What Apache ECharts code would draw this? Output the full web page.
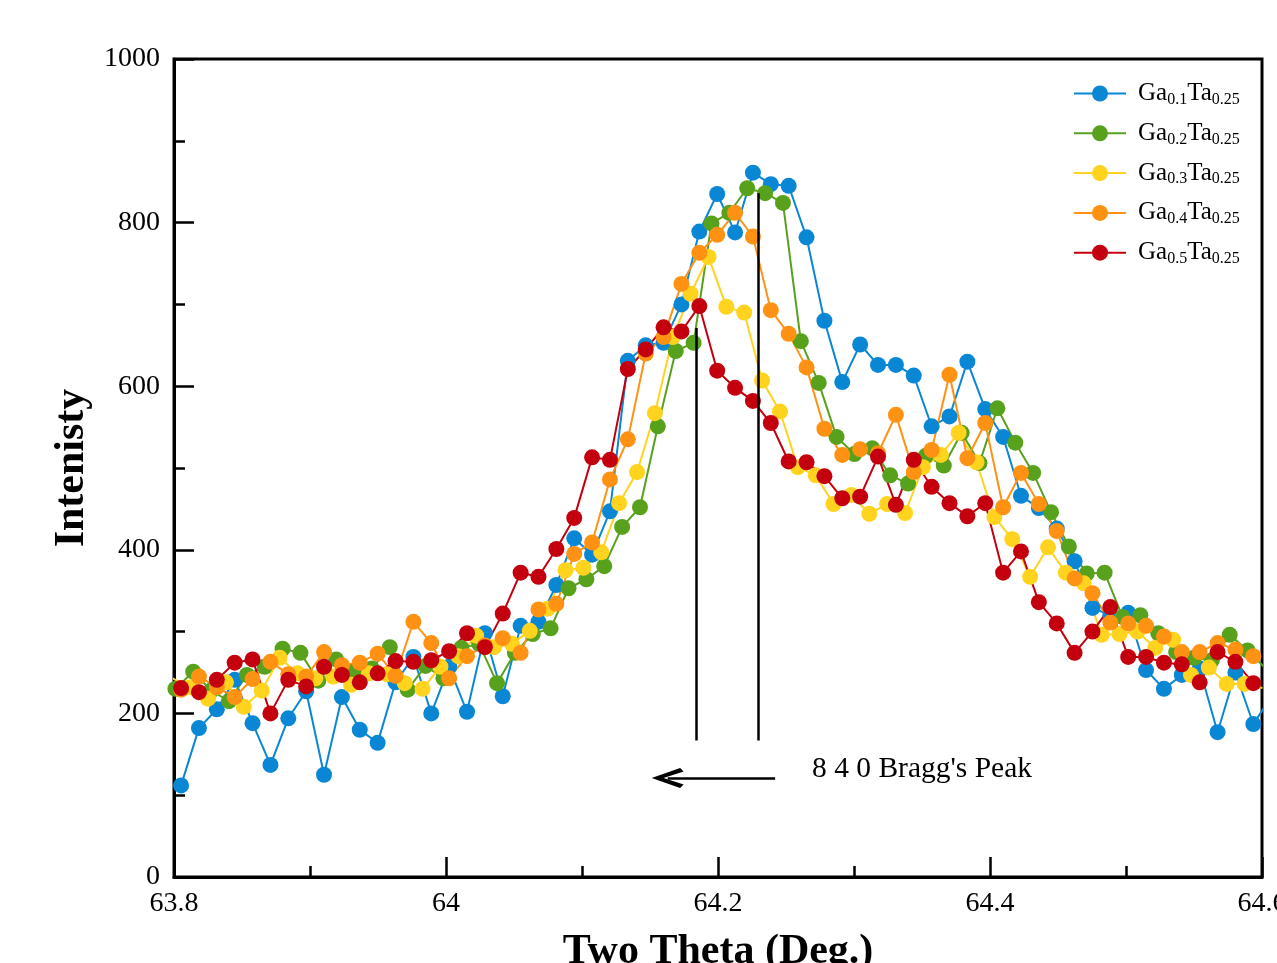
<!DOCTYPE html>
<html>
<head>
<meta charset="utf-8">
<title>840 Bragg's Peak</title>
<script src="https://cdn.jsdelivr.net/npm/echarts@6.0.0/dist/echarts.min.js"></script>
<style>
  html, body { margin: 0; padding: 0; background: #fff; }
  #chart { width: 1277px; height: 963px; }
</style>
</head>
<body>
<div id="chart"></div>
<script>
// 2theta scan grid of each sample (start, step in degrees)
const thetaStep = 0.01314;
const thetaStart = [63.8052, 63.8010, 63.7988, 63.8052, 63.8052];

const seriesNames = ['Ga0.1Ta0.25', 'Ga0.2Ta0.25', 'Ga0.3Ta0.25', 'Ga0.4Ta0.25', 'Ga0.5Ta0.25'];
const colors = ['#0A87D4', '#57A11C', '#FFD31E', '#FF9113', '#C4000E'];

// intensity
const ga01 = [112, 182, 205, 241, 188, 137, 194, 227, 125, 220, 180, 164, 238, 269, 200, 257, 202, 298, 221, 307,
  312, 357, 414, 394, 447, 631, 650, 653, 700, 789, 835, 788, 861, 847, 845, 782, 680, 605, 651, 626,
  626, 613, 551, 563, 630, 572, 538, 466, 451, 426, 386, 329, 320, 323, 253, 230, 247, 255, 177, 250,
  187, 220];
const ga02 = [230, 251, 228, 215, 247, 257, 279, 274, 240, 266, 251, 255, 281, 229, 258, 243, 280, 285, 237, 274,
  297, 304, 353, 364, 380, 428, 452, 551, 643, 653, 799, 812, 842, 836, 824, 655, 604, 538, 517, 524,
  491, 481, 515, 503, 543, 506, 573, 531, 494, 446, 404, 371, 372, 318, 320, 298, 275, 268, 265, 296,
  277, 255];
const ga03 = [243, 232, 218, 238, 208, 228, 268, 249, 243, 245, 235, 249, 248, 237, 230, 257, 270, 295, 281, 285,
  301, 328, 375, 378, 397, 457, 495, 567, 660, 713, 758, 697, 690, 607, 569, 501, 491, 456, 467, 444,
  456, 445, 501, 516, 543, 507, 440, 413, 367, 403, 372, 359, 296, 297, 300, 280, 290, 247, 256, 236,
  236, 231];
const ga04 = [229, 245, 232, 220, 242, 263, 248, 245, 275, 259, 262, 273, 246, 312, 286, 243, 270, 283, 292, 274,
  327, 334, 395, 409, 486, 535, 640, 660, 725, 763, 785, 812, 783, 693, 664, 623, 548, 516, 523, 518,
  565, 495, 522, 614, 512, 555, 452, 494, 456, 423, 365, 347, 311, 310, 307, 294, 275, 275, 286, 278,
  270];
const ga05 = [231, 226, 241, 262, 266, 200, 241, 233, 257, 247, 238, 249, 264, 263, 265, 276, 298, 281, 322, 372,
  367, 401, 439, 513, 510, 621, 645, 672, 667, 698, 619, 598, 582, 555, 508, 507, 490, 463, 465, 514,
  455, 510, 477, 457, 441, 457, 372, 398, 336, 310, 274, 300, 330, 269, 269, 262, 260, 238, 275, 263,
  237];
const intensities = [ga01, ga02, ga03, ga04, ga05];

// x axis ticks
const xMin = 63.8;
const xMax = 64.6;
const xInterval = 0.2;
// y axis ticks
const yMin = 0;
const yMax = 1000;
const yInterval = 200;

// marker lines (2theta, from/to intensity)
const peakLines = [[64.1838, 167, 671], [64.2294, 167, 836]];
const arrowFrom = [64.2420, 121];
const arrowTo = [64.1630, 121];

const serif = '"Liberation Serif", "Times New Roman", serif';

const myChart = echarts.init(document.getElementById('chart'), null, { renderer: 'canvas' });

const lineSeries = intensities.map((vals, s) => ({
  name: seriesNames[s],
  type: 'line',
  data: vals.map((v, i) => [thetaStart[s] + i * thetaStep, v]),
  symbol: 'circle',
  symbolSize: 16,
  showAllSymbol: true,
  clip: true,
  color: colors[s],
  lineStyle: { width: 2, color: colors[s] },
  itemStyle: { color: colors[s] },
  emphasis: { disabled: true },
  animation: false,
}));

const markData = peakLines.map(p => [
  { coord: [p[0], p[1]], symbol: 'none' },
  { coord: [p[0], p[2]], symbol: 'none' },
]);
// arrow pointing to lower angle
markData.push([
  { coord: arrowFrom, symbol: 'none' },
  {
    coord: arrowTo,
    symbol: 'path://M0,0 L10,24 L6.5,27 L0,10 L-6.5,27 L-10,24 Z',
    symbolSize: [20, 32],
  },
]);

lineSeries.push({
  name: 'annot',
  type: 'line',
  data: [],
  silent: true,
  animation: false,
  markLine: {
    silent: true,
    animation: false,
    symbol: ['none', 'none'],
    label: { show: false },
    lineStyle: { color: '#000', width: 2.5, type: 'solid' },
    emphasis: { disabled: true },
    data: markData,
  },
});

const option = {
  animation: false,
  backgroundColor: '#fff',
  grid: {
    left: 174,
    top: 59,
    right: 15,
    bottom: 86,
    containLabel: false,
    outerBoundsMode: 'none',
    show: true,
    borderColor: '#000',
    borderWidth: 3,
    backgroundColor: 'transparent',
  },
  legend: {
    data: seriesNames,
    orient: 'vertical',
    left: 1073,
    top: 81,
    padding: 0,
    itemWidth: 52,
    itemHeight: 20,
    itemGap: 13.3,
    selectedMode: false,
    formatter: (name) => {
      const m = name.match(/Ga([\d.]+)Ta([\d.]+)/);
      return '{n|Ga}{s|' + m[1] + '}{n|Ta}{s|' + m[2] + '}';
    },
    textStyle: {
      padding: [0, 0, 0, 7],
      rich: {
        n: { fontFamily: serif, fontSize: 25, lineHeight: 28, color: '#000' },
        s: { fontFamily: serif, fontSize: 16, lineHeight: 14, color: '#000', verticalAlign: 'bottom' },
      },
    },
  },
  xAxis: {
    type: 'value',
    min: xMin,
    max: xMax,
    interval: xInterval,
    name: 'Two Theta (Deg.)',
    nameLocation: 'middle',
    nameGap: 54,
    nameTextStyle: { fontFamily: serif, fontSize: 42, fontWeight: 'bold', color: '#000' },
    axisLine: { show: true, lineStyle: { color: '#000', width: 3 } },
    axisTick: { show: true, inside: true, length: 20, lineStyle: { color: '#000', width: 2.5 } },
    minorTick: { show: true, splitNumber: 2, length: 11, lineStyle: { color: '#000', width: 2.5 } },
    splitLine: { show: false },
    axisLabel: {
      margin: 13,
      color: '#000',
      fontFamily: serif,
      fontSize: 28,
      hideOverlap: false,
      formatter: v => String(parseFloat(v.toFixed(2))),
    },
  },
  yAxis: {
    type: 'value',
    min: yMin,
    max: yMax,
    interval: yInterval,
    name: 'Intenisty',
    nameLocation: 'middle',
    nameRotate: 90,
    nameGap: 75,
    nameTextStyle: { fontFamily: serif, fontSize: 42, fontWeight: 'bold', color: '#000' },
    axisLine: { show: true, lineStyle: { color: '#000', width: 3 } },
    axisTick: { show: true, inside: true, length: 20, lineStyle: { color: '#000', width: 2.5 } },
    minorTick: { show: true, splitNumber: 2, length: 11, lineStyle: { color: '#000', width: 2.5 } },
    splitLine: { show: false },
    axisLabel: {
      margin: 14,
      color: '#000',
      fontFamily: serif,
      fontSize: 28,
      formatter: v => String(v),
    },
  },
  graphic: [
    {
      type: 'text',
      left: 812,
      top: 754,
      silent: true,
      style: {
        text: "8 4 0 Bragg's Peak",
        font: '29.5px ' + serif,
        fill: '#000',
      },
    },
  ],
  series: lineSeries,
};

myChart.setOption(option);
</script>
</body>
</html>
